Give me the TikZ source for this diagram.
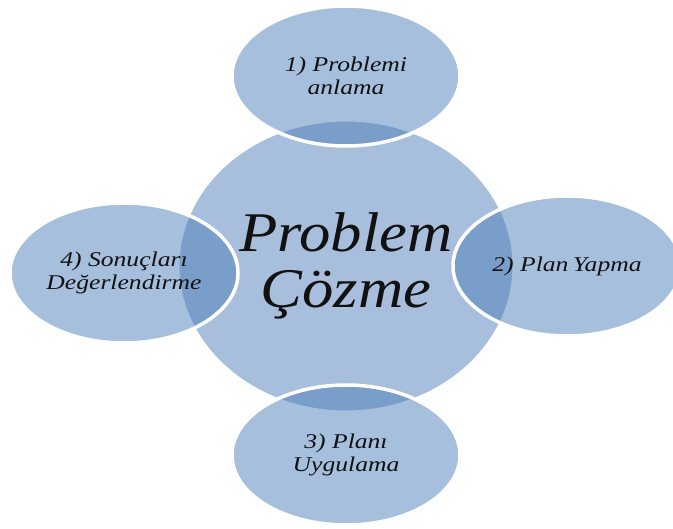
\documentclass[tikz,border=0pt]{standalone}
\usepackage{fontspec}
\setmainfont{Liberation Serif}
\usetikzlibrary{shapes.geometric}
\definecolor{hub}{HTML}{A7BFDC}
\definecolor{sat}{HTML}{4B7DB8}
\definecolor{ink}{HTML}{111111}
\newcommand{\widebig}[1]{\scalebox{1.12}[1]{#1}}
\newcommand{\widesmall}[1]{\scalebox{1.22}[1]{#1}}
\tikzset{
  hubnode/.style={ellipse, fill=hub, draw=white, line width=1pt, inner sep=0pt,
    minimum width=334pt, minimum height=290pt, align=center, text=ink,
    font=\fontsize{56}{56}\selectfont\itshape},
  satnode/.style={ellipse, fill=sat, fill opacity=0.49, text opacity=1,
    draw=white, draw opacity=1, line width=3.5pt, inner sep=0pt,
    minimum width=228pt, minimum height=140pt, align=center, text=ink,
    font=\fontsize{21}{22.5}\selectfont\itshape},
}
\begin{document}
\begin{tikzpicture}[x=1pt,y=-1pt]
\useasboundingbox (0,0) rectangle (673,529);
\fill[white] (0,0) rectangle (673,529);
\node[hubnode] (hub) at (346,266) {\widebig{Problem}\\\widebig{Çözme}};
\node[satnode] (top) at (346,76) {\widesmall{1) Problemi}\\\widesmall{anlama}};
\node[satnode] (right) at (567,266) {\widesmall{2) Plan\,Yapma}};
\node[satnode] (bottom) at (346,455) {\widesmall{3) Planı}\\\widesmall{Uygulama}};
\node[satnode] (left) at (124,273) {\widesmall{4) Sonuçları}\\\widesmall{Değerlendirme}};
\end{tikzpicture}
\end{document}
